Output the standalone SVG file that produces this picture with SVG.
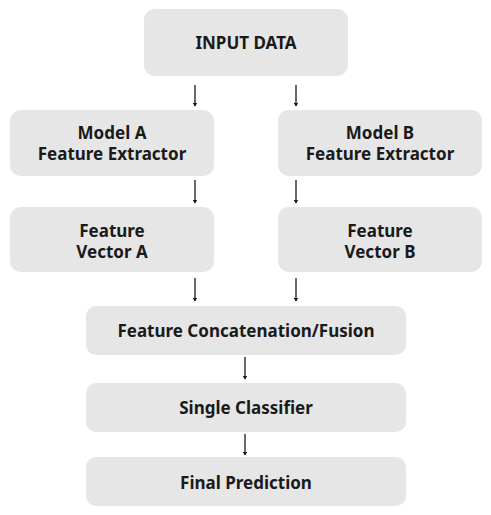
<svg xmlns="http://www.w3.org/2000/svg" width="491" height="515" viewBox="0 0 491 515">
<defs>
<style>
.box{fill:#e6e6e6;}
.t{font-family:"Noto Sans","Open Sans","DejaVu Sans",sans-serif;font-weight:bold;font-size:17px;fill:#1a1a1a;text-anchor:middle;}
.c line{stroke:#1a1a1a;stroke-width:1.3;marker-end:url(#ah);}
</style>
<marker id="ah" viewBox="0 0 8 10" refX="7" refY="5" markerWidth="4" markerHeight="5" markerUnits="userSpaceOnUse" orient="auto-start-reverse">
<path d="M0,0 L8,5 L0,10 Z" fill="#1a1a1a"/>
</marker>
</defs>
<rect width="491" height="515" fill="#ffffff"/>
<g id="input"><rect class="box" x="144" y="9" width="204" height="67" rx="11"/><text class="t" x="246" y="49">INPUT DATA</text></g>
<g id="modelA"><rect class="box" x="10" y="110" width="204" height="66" rx="11"/><text class="t" x="112" y="139">Model A</text><text class="t" x="112" y="160">Feature Extractor</text></g>
<g id="modelB"><rect class="box" x="278" y="110" width="204" height="66" rx="11"/><text class="t" x="380" y="139">Model B</text><text class="t" x="380" y="160">Feature Extractor</text></g>
<g id="vecA"><rect class="box" x="10" y="207" width="204" height="65" rx="11"/><text class="t" x="112" y="237">Feature</text><text class="t" x="112" y="258">Vector A</text></g>
<g id="vecB"><rect class="box" x="278" y="207" width="204" height="65" rx="11"/><text class="t" x="380" y="237">Feature</text><text class="t" x="380" y="258">Vector B</text></g>
<g id="fusion"><rect class="box" x="86" y="306" width="320" height="49" rx="10"/><text class="t" x="246" y="337">Feature Concatenation/Fusion</text></g>
<g id="classifier"><rect class="box" x="86" y="383" width="320" height="49" rx="10"/><text class="t" x="246" y="414">Single Classifier</text></g>
<g id="final"><rect class="box" x="86" y="457" width="320" height="49" rx="10"/><text class="t" x="246" y="489">Final Prediction</text></g>
<g class="c" id="connectors">
<line x1="195" y1="85" x2="195" y2="106"/>
<line x1="296" y1="85" x2="296" y2="106"/>
<line x1="195" y1="180" x2="195" y2="203"/>
<line x1="296" y1="180" x2="296" y2="203"/>
<line x1="195" y1="278" x2="195" y2="301"/>
<line x1="296" y1="278" x2="296" y2="301"/>
<line x1="245" y1="357" x2="245" y2="379"/>
<line x1="245" y1="434" x2="245" y2="455"/>
</g>
</svg>
